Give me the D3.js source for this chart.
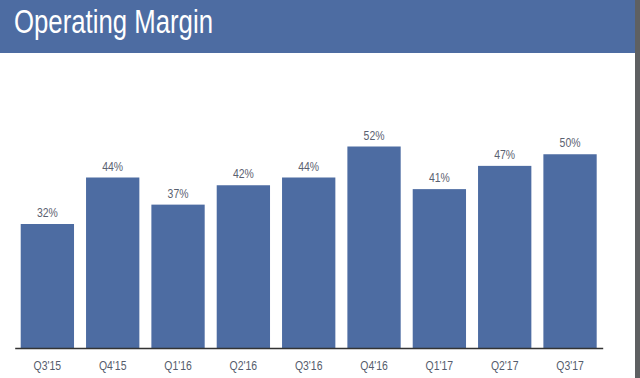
<!DOCTYPE html>
<html><head><meta charset="utf-8">
<script src="https://cdn.jsdelivr.net/npm/d3@7"></script>
<style>html,body{margin:0;padding:0;background:#fff;overflow:hidden}</style>
</head><body><svg id="c" width="640" height="378"></svg>
<script>
const categories = ["Q3'15","Q4'15","Q1'16","Q2'16","Q3'16","Q4'16","Q1'17","Q2'17","Q3'17"];
const values = [32, 44, 37, 42, 44, 52, 41, 47, 50];
const title = "Operating Margin";

const svg = d3.select("#c");
const blue = "#4d6ca2";
const font = "'Liberation Sans', Arial, sans-serif";

function narrow(sel, ratio) {
  sel.each(function() {
    const w = this.getComputedTextLength();
    this.setAttribute("textLength", (w * ratio).toFixed(2));
    this.setAttribute("lengthAdjust", "spacingAndGlyphs");
  });
}

// header band
svg.append("rect").attr("x",0).attr("y",0).attr("width",635).attr("height",53).attr("fill",blue);
svg.append("text").attr("x",14).attr("y",32.5).text(title)
  .attr("fill","#fff").attr("font-family",font)
  .attr("font-size",33).attr("textLength",199).attr("lengthAdjust","spacingAndGlyphs");
// right edge strip
svg.append("rect").attr("x",635).attr("y",0).attr("width",5).attr("height",378).attr("fill","#5e6062");

const x = d3.scaleBand().domain(categories).range([14.7, 602.7]).paddingInner(0.184).paddingOuter(0.092);
const y = d3.scaleLinear().domain([0, 52]).range([348, 146.5]);

svg.selectAll("rect.bar").data(values).join("rect").attr("class","bar")
  .attr("x",(d,i)=>x(categories[i])).attr("width",x.bandwidth())
  .attr("y",d=>y(d)).attr("height",d=>y(0)-y(d)).attr("fill",blue);

svg.selectAll("text.val").data(values).join("text").attr("class","val")
  .attr("x",(d,i)=>x(categories[i])+x.bandwidth()/2).attr("y",d=>y(d)-7)
  .attr("text-anchor","middle").attr("font-family",font)
  .attr("font-size",12).attr("fill","#5a6170").text(d=>d+"%")
  .call(narrow, 0.87);

const ax = svg.append("g").attr("transform","translate(0,348)")
  .call(d3.axisBottom(x).tickSize(0).tickPadding(13));
ax.select(".domain").attr("stroke","#333").attr("stroke-width",1.5);
ax.selectAll("text").attr("font-family",font)
  .attr("font-size",12).attr("fill","#555c6c").call(narrow, 0.87);
</script></body></html>
